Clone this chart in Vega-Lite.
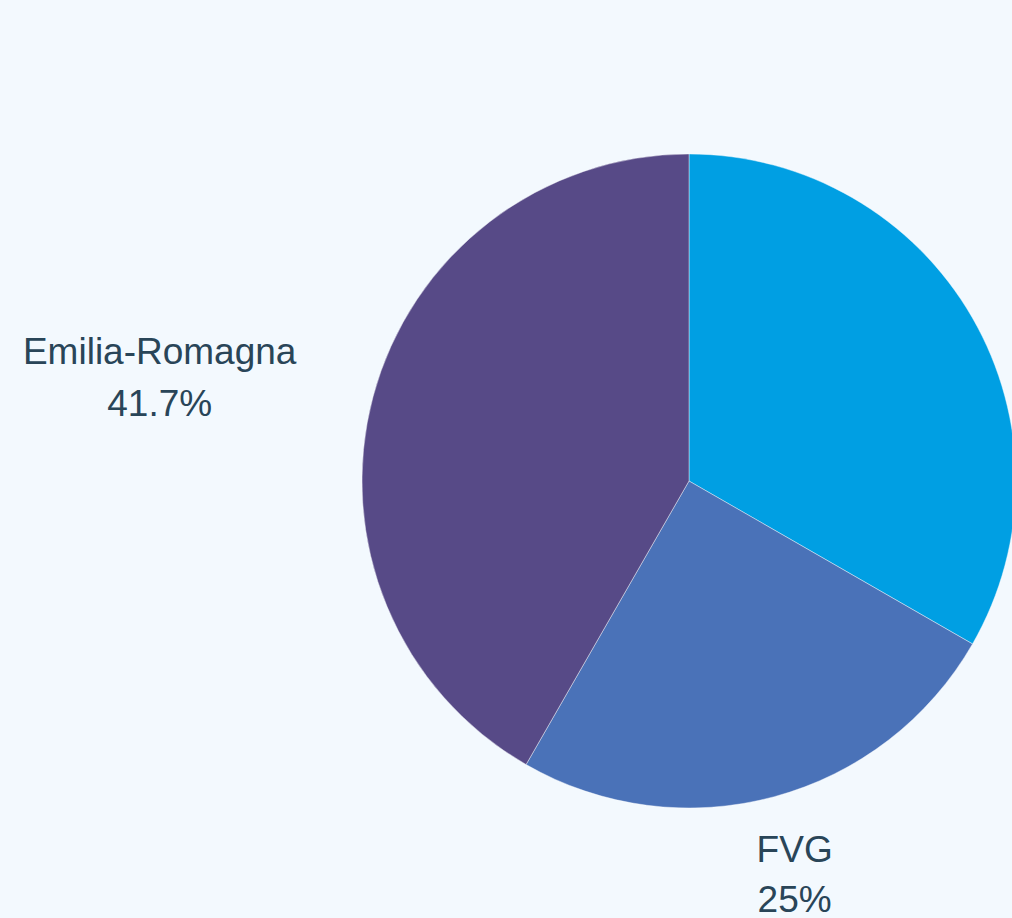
{
  "$schema": "https://vega.github.io/schema/vega-lite/v6.json",
  "width": 1012,
  "height": 918,
  "autosize": {"type": "none"},
  "padding": 0,
  "background": "#f3f9fe",
  "config": {"view": {"stroke": null}},
  "data": {
    "values": [
      {"region": "Veneto", "share": 33.3, "pct": "33.3%", "rank": 1},
      {"region": "FVG", "share": 25, "pct": "25%", "rank": 2},
      {"region": "Emilia-Romagna", "share": 41.7, "pct": "41.7%", "rank": 3}
    ]
  },
  "encoding": {
    "theta": {"field": "share", "type": "quantitative", "stack": true, "scale": {"domain": [0, 100]}},
    "order": {"field": "rank", "type": "quantitative", "sort": "ascending"}
  },
  "layer": [
    {
      "mark": {"type": "arc", "outerRadius": 327, "x": 689, "y": 481, "stroke": "#ffffff", "strokeWidth": 0.8, "strokeOpacity": 0.5},
      "encoding": {
        "color": {
          "field": "region",
          "type": "nominal",
          "sort": null,
          "scale": {"domain": ["Veneto", "FVG", "Emilia-Romagna"], "range": ["#009fe3", "#4a72b8", "#574a87"]},
          "legend": null
        }
      }
    },
    {
      "mark": {"type": "text", "radius": 405, "x": 689, "y": 481, "dx": -138, "dy": -13, "align": "center", "baseline": "alphabetic", "fontSize": 37, "font": "Liberation Sans", "color": "#294558"},
      "encoding": {
        "text": {"condition": {"test": "datum.region == 'Emilia-Romagna'", "field": "region"}, "value": ""}
      }
    },
    {
      "mark": {"type": "text", "radius": 405, "x": 689, "y": 481, "dx": -138, "dy": 39, "align": "center", "baseline": "alphabetic", "fontSize": 37, "font": "Liberation Sans", "color": "#294558"},
      "encoding": {
        "text": {"condition": {"test": "datum.region == 'Emilia-Romagna'", "field": "pct"}, "value": ""}
      }
    },
    {
      "mark": {"type": "text", "radius": 405, "x": 689, "y": 481, "dx": 0, "dy": -10, "align": "center", "baseline": "alphabetic", "fontSize": 37, "font": "Liberation Sans", "color": "#294558"},
      "encoding": {
        "text": {"condition": {"test": "datum.region == 'FVG'", "field": "region"}, "value": ""}
      }
    },
    {
      "mark": {"type": "text", "radius": 405, "x": 689, "y": 481, "dx": 0, "dy": 40, "align": "center", "baseline": "alphabetic", "fontSize": 37, "font": "Liberation Sans", "color": "#294558"},
      "encoding": {
        "text": {"condition": {"test": "datum.region == 'FVG'", "field": "pct"}, "value": ""}
      }
    }
  ]
}
